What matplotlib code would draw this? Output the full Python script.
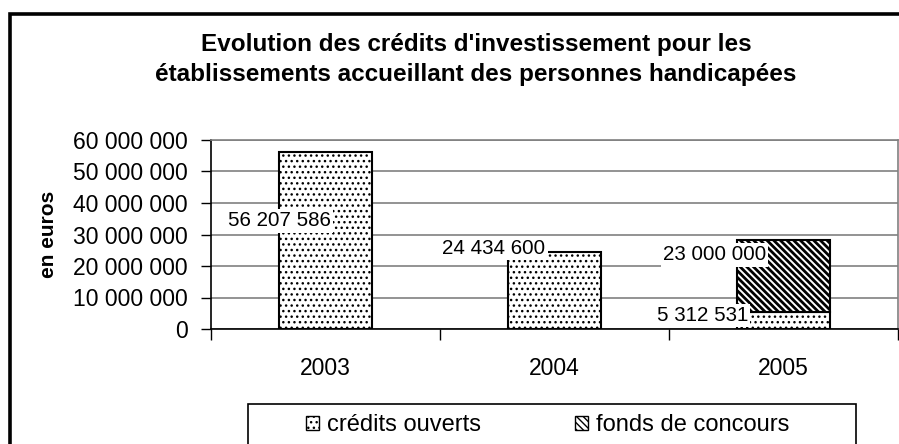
import matplotlib
matplotlib.use("Agg")
import matplotlib.pyplot as plt
import numpy as np
from matplotlib.patches import Rectangle, Patch

plt.rcParams["font.family"] = ["Liberation Sans", "DejaVu Sans"]
plt.rcParams["hatch.linewidth"] = 1.0

years = ["2003", "2004", "2005"]
credits_ouverts = [56207586, 24434600, 5312531]
fonds_concours = [0, 0, 23000000]
label_credits = ["56 207 586", "24 434 600", "5 312 531"]
label_fonds = ["23 000 000"]
yticks = [0, 10e6, 20e6, 30e6, 40e6, 50e6, 60e6]

W, H = 899, 444
DOTS = "..."
STRIPES = "\\" * 5


def fx(px):
    return px / W


def fy(py):
    return 1 - py / H


def fmt_thousands(v):
    return f"{int(v):,}".replace(",", " ")


fig = plt.figure(figsize=(W / 100, H / 100), dpi=100)
fig.patch.set_facecolor("white")

# outer chart frame, runs off the right and bottom edges
fig.add_artist(Rectangle((fx(9.5), fy(600)), 2.0, fy(14) - fy(600),
                         transform=fig.transFigure, fill=False,
                         edgecolor="black", linewidth=2.6))

ax = fig.add_axes([fx(211), fy(329), fx(898) - fx(211), fy(140) - fy(329)])

x = np.arange(len(years))
width = 0.406

bars_co = ax.bar(x, credits_ouverts, width, color="white", edgecolor="black",
                 hatch=DOTS, linewidth=1.5, zorder=3)
with plt.rc_context({"hatch.linewidth": 2.0}):
    bars_fc = ax.bar(x, fonds_concours, width, bottom=credits_ouverts, color="white",
                     edgecolor="black", hatch=STRIPES, linewidth=1.5, zorder=3)
for b, v in zip(bars_fc, fonds_concours):
    if v == 0:
        b.set_visible(False)

ax.set_xlim(-0.5, len(years) - 0.5)
ax.set_ylim(0, 60e6)
ax.set_yticks(yticks)
ax.set_yticklabels([fmt_thousands(v) for v in yticks])
ax.set_xticks(x)
ax.set_xticklabels(years)
ax.set_xticks(np.arange(-0.5, len(years)), minor=True)
ax.tick_params(axis="x", which="major", length=0, pad=20, labelsize=16.5)
ax.tick_params(axis="x", which="minor", length=8, width=1, direction="out")
ax.tick_params(axis="y", length=7, width=1, direction="out", pad=10, labelsize=16.5)

ax.yaxis.grid(True, color="#808080", linewidth=1.2, zorder=0)
ax.set_axisbelow(True)
for side in ("top", "right"):
    ax.spines[side].set_color("#808080")
    ax.spines[side].set_linewidth(1.2)
for side in ("left", "bottom"):
    ax.spines[side].set_linewidth(1.2)

ax.set_ylabel("en euros", fontsize=15, fontweight="bold")
ax.yaxis.set_label_coords((58 - 211) / (898 - 211), 0.5)

# data labels on white boxes, offset left of each bar
label_box = dict(facecolor="white", edgecolor="none", pad=1.5)
co_offsets = [(-0.203, 34.3e6), (-0.264, 25.7e6), (-0.354, 4.4e6)]
for i, (txt, (dx, yy)) in enumerate(zip(label_credits, co_offsets)):
    ax.text(x[i] + dx, yy, txt, ha="center", va="center", fontsize=14.8,
            bbox=label_box, zorder=5)
ax.text(x[2] - 0.301, 23.5e6, label_fonds[0], ha="center", va="center",
        fontsize=14.8, bbox=label_box, zorder=5)

fig.text(fx(476), fy(44), "Evolution des crédits d'investissement pour les",
         ha="center", va="center", fontsize=17.5, fontweight="bold")
fig.text(fx(476), fy(75), "établissements accueillant des personnes handicapées",
         ha="center", va="center", fontsize=17.5, fontweight="bold")

# legend box
fig.add_artist(Rectangle((fx(248), fy(460)), fx(856) - fx(248), fy(404) - fy(460),
                         transform=fig.transFigure, fill=False,
                         edgecolor="black", linewidth=1.2))
handles = [Patch(facecolor="white", edgecolor="black", hatch=DOTS, label="crédits ouverts"),
           Patch(facecolor="white", edgecolor="black", hatch=STRIPES, label="fonds de concours")]
fig.legend(handles=handles, loc="center", bbox_to_anchor=(fx(547.5), fy(425)),
           ncol=2, frameon=False, fontsize=17, handlelength=0.55, handleheight=0.55,
           handletextpad=0.34, columnspacing=4.0)

fig.savefig("out.png", dpi=100)
